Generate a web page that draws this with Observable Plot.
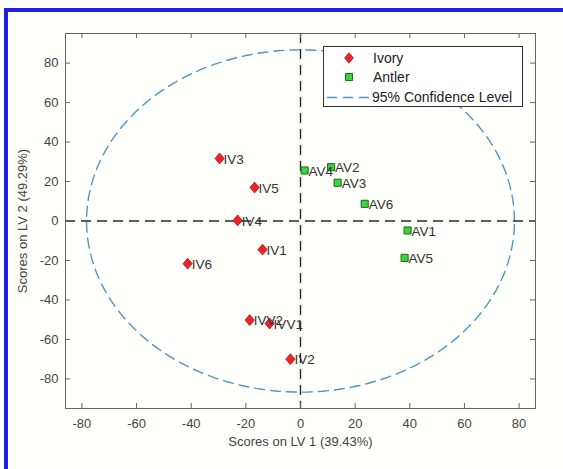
<!DOCTYPE html>
<html><head><meta charset="utf-8">
<script src="https://cdn.jsdelivr.net/npm/d3@7"></script>
<script src="https://cdn.jsdelivr.net/npm/@observablehq/plot@0.6"></script>
<style>
body{margin:0;background:#fffffb;}
#wrap{position:relative;width:563px;height:469px;background:#fffffb;overflow:hidden;}
#border{position:absolute;left:4px;top:8px;width:600px;height:500px;border-left:4px solid #1e1ee8;border-top:4px solid #1e1ee8;pointer-events:none;}
svg{position:absolute;left:0;top:0;}
</style></head><body><div id="wrap"><div id="border"></div></div>
<script>
// Ivory (red diamonds)
const ivoryNames = ["IV1","IV2","IV3","IV4","IV5","IV6","IVV2","IVV1"];
const ivoryX = [-13.9, -3.7, -29.6, -23.0, -16.8, -41.3, -18.6, -11.3];
const ivoryY = [-14.5, -70.0, 31.7, 0.3, 17.0, -21.6, -50.2, -51.9];
// Antler (green squares)
const antlerNames = ["AV1","AV2","AV3","AV4","AV5","AV6"];
const antlerX = [39.2, 11.2, 13.6, 1.5, 38.1, 23.5];
const antlerY = [-4.8, 27.3, 19.4, 25.6, -18.7, 8.7];
// 95% confidence ellipse radii
const ellipseRx = 78.3;
const ellipseRy = 86.7;
// ticks
const xTicks = [-80,-60,-40,-20,0,20,40,60,80];
const yTicks = [-80,-60,-40,-20,0,20,40,60,80];
const xLabel = "Scores on LV 1 (39.43%)";
const yLabel = "Scores on LV 2 (49.29%)";
const legendLabels = ["Ivory","Antler","95% Confidence Level"];

const ivory = ivoryNames.map((n,i)=>({name:n,x:ivoryX[i],y:ivoryY[i]}));
const antler = antlerNames.map((n,i)=>({name:n,x:antlerX[i],y:antlerY[i]}));
const ellipse = d3.range(0,360,2).map(a=>({x:ellipseRx*Math.cos(a*Math.PI/180), y:ellipseRy*Math.sin(a*Math.PI/180)}));

const diamondSym = {draw(ctx,size){const h=Math.sqrt(size/Math.PI)*1.3;const w=h*0.85;ctx.moveTo(0,-h);ctx.lineTo(w,0);ctx.lineTo(0,h);ctx.lineTo(-w,0);ctx.closePath();}};

const redFill="#e8262a", redStroke="#b01515", greenFill="#3dd13d", greenStroke="#1a6a1a";
const ellColor="#4f97c2";

const W=563,H=469,mL=65,mR=28,mT=33,mB=61;
const plotW=W-mL-mR, plotH=H-mT-mB;

const chart = Plot.plot({
  width:W, height:H,
  marginLeft:mL, marginRight:mR, marginTop:mT, marginBottom:mB,
  style:{fontFamily:"'Liberation Sans', Arial, sans-serif", fontSize:"13px", color:"#444", background:"transparent"},
  x:{domain:[-86,86]},
  y:{domain:[-95,95]},
  marks:[
    Plot.line(ellipse,{x:"x",y:"y",curve:"linear-closed",stroke:ellColor,strokeWidth:1.4,strokeDasharray:"10,6"}),
    Plot.ruleX([0],{stroke:"#2a2a2a",strokeWidth:1.4,strokeDasharray:"10,6"}),
    Plot.ruleY([0],{stroke:"#2a2a2a",strokeWidth:1.4,strokeDasharray:"10,6"}),
    Plot.frame({stroke:"#666"}),
    Plot.tickX(xTicks,{x:d=>d,stroke:"#666",insetTop:plotH-5}),
    Plot.tickX(xTicks,{x:d=>d,stroke:"#666",insetBottom:plotH-5}),
    Plot.tickY(yTicks,{y:d=>d,stroke:"#666",insetRight:plotW-5}),
    Plot.tickY(yTicks,{y:d=>d,stroke:"#666",insetLeft:plotW-5}),
    Plot.axisX({anchor:"bottom",ticks:xTicks,tickSize:0,tickPadding:10,tickFormat:d=>String(d),label:xLabel,labelAnchor:"center",labelOffset:37,labelArrow:"none",fill:"#444"}),
    Plot.axisY({anchor:"left",ticks:yTicks,tickSize:0,tickPadding:7,tickFormat:d=>String(d),label:yLabel,labelAnchor:"center",labelOffset:48,labelArrow:"none",fill:"#444"}),
    Plot.dot(ivory,{x:"x",y:"y",symbol:diamondSym,r:4.2,fill:redFill,stroke:redStroke,strokeWidth:0.8}),
    Plot.dot(antler,{x:"x",y:"y",symbol:"square",r:4,fill:greenFill,stroke:greenStroke,strokeWidth:1}),
    Plot.text(ivory,{x:"x",y:"y",text:"name",textAnchor:"start",dx:4,dy:1,fill:"#333",fontSize:13.5}),
    Plot.text(antler,{x:"x",y:"y",text:"name",textAnchor:"start",dx:4,dy:1,fill:"#333",fontSize:13.5})
  ]
});
document.getElementById("wrap").appendChild(chart);

// Legend inside the plot area
const svg=d3.select(chart);
const lg=svg.append("g").attr("font-family","'Liberation Sans', Arial, sans-serif").attr("font-size","14px").attr("fill","#222").attr("text-anchor","start");
lg.append("rect").attr("x",323.5).attr("y",46.5).attr("width",199).attr("height",60).attr("fill","#fff").attr("stroke","#333");
lg.append("path").attr("d",d3.symbol(diamondSym,Math.PI*16)()).attr("transform","translate(349,58)").attr("fill",redFill).attr("stroke",redStroke).attr("stroke-width",0.8);
lg.append("path").attr("d",d3.symbol(d3.symbolSquare,Math.PI*16)()).attr("transform","translate(349,77)").attr("fill",greenFill).attr("stroke",greenStroke);
lg.append("line").attr("x1",327).attr("x2",371).attr("y1",97.5).attr("y2",97.5).attr("stroke",ellColor).attr("stroke-width",1.4).attr("stroke-dasharray","10,6");
lg.append("text").attr("x",373).attr("y",63).attr("text-anchor","start").text(legendLabels[0]);
lg.append("text").attr("x",373).attr("y",82).attr("text-anchor","start").text(legendLabels[1]);
lg.append("text").attr("x",372).attr("y",102).attr("text-anchor","start").text(legendLabels[2]);
</script>
</body></html>
